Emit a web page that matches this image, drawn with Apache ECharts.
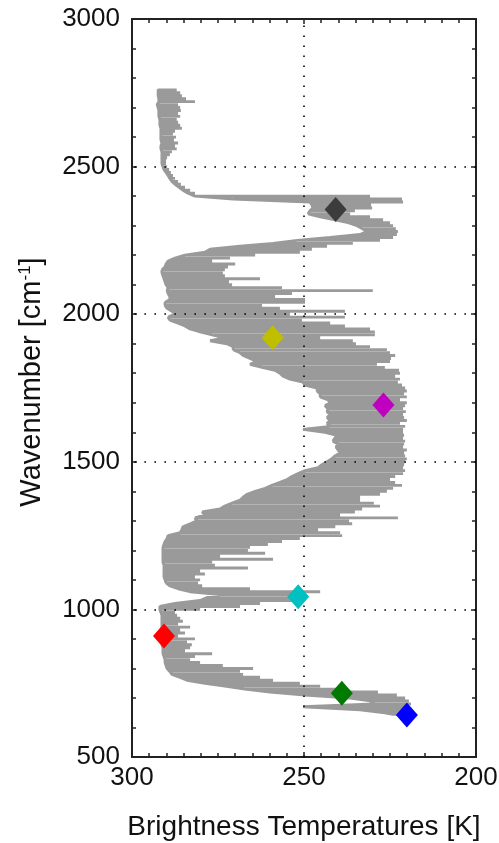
<!DOCTYPE html>
<html><head><meta charset="utf-8">
<script src="https://cdn.jsdelivr.net/npm/echarts@6/dist/echarts.min.js"></script>
<style>html,body{margin:0;padding:0;background:#fff}#c{width:499px;height:843px}</style>
</head><body><div id="c"></div>
<script>
// Spectrum rows: wavenumber, warm edge (left) and cold edge (right) brightness temperature
const specWn = [2760,2750,2740,2730,2720,2710,2700,2690,2680,2670,2660,2650,2640,2630,2620,2610,2600,2590,2580,2570,2560,2550,2540,2530,2520,2510,2500,2490,2480,2470,2460,2450,2440,2430,2420,2410,2400,2390,2380,2370,2360,2350,2340,2330,2320,2310,2300,2290,2280,2270,2260,2250,2240,2230,2220,2210,2200,2190,2180,2170,2160,2150,2140,2130,2120,2110,2100,2090,2080,2070,2060,2050,2040,2030,2020,2010,2000,1990,1980,1970,1960,1950,1940,1930,1920,1910,1900,1890,1880,1870,1860,1850,1840,1830,1820,1810,1800,1790,1780,1770,1760,1750,1740,1730,1720,1710,1700,1690,1680,1670,1660,1650,1640,1630,1620,1610,1600,1590,1580,1570,1560,1550,1540,1530,1520,1510,1500,1490,1480,1470,1460,1450,1440,1430,1420,1410,1400,1390,1380,1370,1360,1350,1340,1330,1320,1310,1300,1290,1280,1270,1260,1250,1240,1230,1220,1210,1200,1190,1180,1170,1160,1150,1140,1130,1120,1110,1100,1090,1080,1070,1060,1050,1040,1030,1020,1010,1000,990,980,970,960,950,940,930,920,910,900,890,880,870,860,850,840,830,820,810,800,790,780,770,760,750,740,730,720,710,700,690,680,670,660,650,645];
const specTwarm = [292.4,292.4,292.4,292.2,292.2,292.7,292.4,292.2,292.2,292.2,291.9,291.9,291.9,291.6,291.6,291.6,291.6,291.6,291.3,291.6,291.6,291.3,291.3,291.3,291.3,291.3,291.0,290.7,290.1,289.5,289.0,288.4,287.5,286.3,285.2,283.7,281.7,270.6,248.3,247.7,247.4,248.3,248.8,245.3,241.0,237.2,234.6,233.1,231.7,233.7,242.4,252.0,259.0,268.6,277.3,278.8,284.6,287.5,289.5,290.1,290.4,291.3,291.3,291.0,290.7,290.4,290.1,289.5,289.8,289.5,289.0,289.0,290.4,290.4,289.8,288.4,287.5,289.5,289.0,286.6,284.6,283.1,280.2,276.7,273.0,277.3,272.4,270.6,270.6,268.6,267.7,265.7,263.7,265.7,262.2,258.4,257.0,256.1,254.1,250.3,249.7,246.2,246.2,245.3,245.3,243.0,242.4,243.9,243.0,243.3,242.4,243.3,242.4,243.3,242.4,250.3,243.9,240.4,241.0,241.6,240.1,240.7,240.1,239.5,241.0,241.9,243.3,244.8,245.9,249.7,251.7,253.5,254.9,257.0,259.3,261.3,264.2,266.5,267.7,268.6,270.9,273.0,274.4,279.6,278.8,281.7,281.1,283.1,285.2,285.5,286.0,289.5,289.8,290.4,290.7,291.0,291.0,291.0,291.0,291.0,291.0,290.7,290.7,290.7,290.7,290.7,290.4,290.1,289.0,286.6,283.1,274.4,278.2,280.2,287.5,291.9,291.9,291.6,291.3,291.3,291.3,291.3,291.3,291.3,291.3,291.3,291.3,291.3,291.3,291.0,291.0,291.0,290.7,290.4,290.4,290.1,289.8,289.0,288.4,286.0,284.0,278.8,273.0,267.2,259.9,249.7,236.6,230.8,229.4,250.3,233.7,226.5,224.5];
const specTcold = [287.0,286.0,285.5,284.3,281.7,286.6,286.0,285.8,286.6,286.0,287.0,286.6,286.0,285.5,287.5,288.1,287.2,287.8,286.6,287.5,287.0,288.4,289.0,289.8,290.1,290.1,289.8,289.2,288.7,288.1,287.5,286.6,285.8,284.6,283.1,281.7,230.8,221.5,221.2,230.5,230.2,235.2,236.6,230.8,227.0,225.0,224.1,223.3,222.7,223.0,224.1,227.9,235.8,243.3,247.7,251.2,264.2,271.5,276.7,270.0,272.1,273.0,273.6,273.0,262.8,271.8,270.9,256.4,230.0,253.5,258.4,249.7,249.7,262.2,257.0,238.1,254.1,238.1,250.6,242.4,238.1,230.8,229.4,229.4,245.3,235.8,234.9,230.8,225.9,225.0,223.5,224.7,225.0,228.8,226.5,222.4,222.1,223.5,222.1,222.7,221.5,220.6,220.1,220.9,220.1,222.1,220.1,220.6,221.2,220.4,221.2,220.9,220.1,222.1,220.6,221.2,221.2,220.9,221.2,220.6,220.9,221.2,220.1,220.9,220.6,220.1,220.6,220.9,221.2,220.6,221.2,223.5,225.0,223.5,221.5,224.1,225.9,227.9,233.7,233.7,229.7,227.9,233.1,235.2,239.5,222.7,236.9,236.0,240.9,245.9,239.5,238.9,251.2,256.4,260.5,265.7,266.3,261.3,274.4,259.0,276.7,275.9,266.3,280.2,278.8,281.7,280.2,280.8,279.6,265.7,245.3,249.7,251.2,251.7,262.8,268.6,280.2,287.5,286.9,286.0,285.2,286.6,283.1,286.0,284.6,286.6,281.7,284.0,282.6,283.1,284.6,276.7,281.7,283.1,280.2,273.6,264.8,268.6,267.7,262.8,259.0,251.2,245.3,239.5,228.5,223.0,220.6,219.5,218.9,220.1,220.1,219.2,219.2];

// Highlighted channels
const markerT  = [240.8, 259.1, 226.9, 251.7, 290.7, 239.0, 220.1];
const markerWn = [2355, 1920, 1692, 1043, 910, 716, 642];

// Axes
const xTickLabels = [300, 250, 200];
const yTickLabels = [500, 1000, 1500, 2000, 2500, 3000];
const xGrid = [250];
const yGrid = [1000, 1500, 2000, 2500];

const markerColors = ['#3c3c3c', '#bfbf00', '#c000c0', '#00c0c0', '#ff0000', '#007a00', '#0000ff'];

// Build spectrum path: each row drawn out and back from the warm edge
const specData = [];
for (let i = 0; i < specWn.length; i++) {
  specData.push([specTwarm[i], specWn[i]]);
  specData.push([specTcold[i], specWn[i]]);
  specData.push([specTwarm[i], specWn[i]]);
}

const FONT = 'Liberation Sans';
const axisCol = '#222';
const chart = echarts.init(document.getElementById('c'), null, {renderer: 'canvas'});

const baseX = {
  type: 'value', min: 200, max: 300, interval: 50, inverse: true,
  axisLine: {show: true, onZero: false, lineStyle: {color: axisCol, width: 2}},
  axisTick: {show: true, inside: true, length: 5, lineStyle: {color: axisCol, width: 1.5}},
  minorTick: {show: true, splitNumber: 10, length: 4, lineStyle: {color: axisCol, width: 1.5}},
  splitLine: {show: false}
};
const baseY = {
  type: 'value', min: 500, max: 3000, interval: 500,
  axisLine: {show: true, onZero: false, lineStyle: {color: axisCol, width: 2}},
  axisTick: {show: true, inside: true, length: 5, lineStyle: {color: axisCol, width: 1.5}},
  minorTick: {show: true, splitNumber: 5, length: 4, lineStyle: {color: axisCol, width: 1.5}},
  splitLine: {show: false}
};

const series = [
  {
    type: 'line', name: 'spectrum', data: specData, z: 2,
    symbol: 'none', showSymbol: false, silent: true,
    lineStyle: {color: '#9a9a9a', width: 2.9, cap: 'butt', join: 'bevel'},
    clip: true
  },
  {
    type: 'scatter', name: 'grid', data: [], z: 5, silent: true,
    markLine: {
      silent: true, symbol: 'none', animation: false,
      label: {show: false},
      lineStyle: {color: '#000', width: 1.6, type: [1.6, 8.4]},
      data: yGrid.map(v => ({yAxis: v})).concat(xGrid.map(v => ({xAxis: v})))
    }
  }
];
markerT.forEach((t, i) => {
  series.push({
    type: 'scatter', z: 10, silent: true,
    symbol: 'diamond', symbolSize: [22, 25],
    itemStyle: {color: markerColors[i], opacity: 1},
    data: [[t, markerWn[i]]]
  });
});

chart.setOption({
  animation: false,
  backgroundColor: '#fff',
  grid: {left: 132, right: 23, top: 19, bottom: 86, containLabel: false, outerBoundsMode: 'none'},
  xAxis: [
    Object.assign({}, baseX, {
      position: 'bottom',
      name: 'Brightness Temperatures [K]', nameLocation: 'middle', nameGap: 56,
      nameTextStyle: {fontFamily: FONT, fontSize: 28, color: '#111'},
      axisLabel: {show: true, margin: 8, fontFamily: FONT, fontSize: 26, color: '#111',
        formatter: v => xTickLabels.indexOf(v) >= 0 ? String(v) : ''}
    }),
    Object.assign({}, baseX, {position: 'top', axisLabel: {show: false}})
  ],
  yAxis: [
    Object.assign({}, baseY, {
      position: 'left',
      name: 'Wavenumber [cm{sup|-1}]', nameLocation: 'middle', nameGap: 86, nameRotate: 90,
      nameTextStyle: {fontFamily: FONT, fontSize: 29, color: '#111', padding: [0, 0, 0, 12],
        rich: {sup: {fontFamily: FONT, fontSize: 17, color: '#111', verticalAlign: 'top'}}},
      axisLabel: {show: true, margin: 12, fontFamily: FONT, fontSize: 26, color: '#111',
        formatter: v => yTickLabels.indexOf(v) >= 0 ? String(v) : ''}
    }),
    Object.assign({}, baseY, {position: 'right', axisLabel: {show: false}})
  ],
  series: series
});
</script>
</body></html>
